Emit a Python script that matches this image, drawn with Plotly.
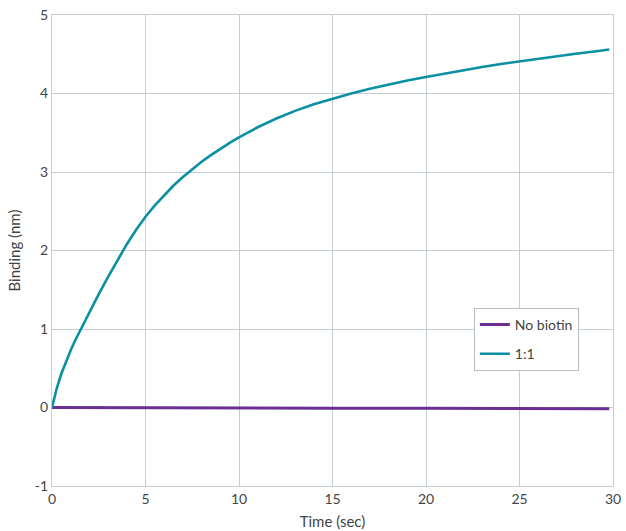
import plotly.graph_objects as go

time_sec = [0, 0.25, 0.5, 0.75, 1, 1.25, 1.5, 2, 2.5, 3, 3.5, 4, 4.5, 5, 5.5, 6, 6.5, 7, 7.5, 8, 8.5, 9, 9.5, 10,
            11, 12, 13, 14, 15, 16, 17, 18, 19, 20, 21, 22, 23, 24, 25, 26, 27, 28, 29, 29.8]
binding_1to1 = [0, 0.24, 0.43, 0.59, 0.73, 0.86, 0.98, 1.215, 1.445, 1.665, 1.875, 2.08, 2.265, 2.43,
                2.575, 2.707, 2.828, 2.937, 3.037, 3.13, 3.215, 3.295, 3.37, 3.44,
                3.57, 3.682, 3.779, 3.863, 3.936, 4.0, 4.06, 4.115, 4.165, 4.21, 4.255, 4.297, 4.337,
                4.375, 4.41, 4.444, 4.476, 4.507, 4.536, 4.56]
time_nb = [0, 5, 10, 15, 20, 25, 29.8]
binding_no_biotin = [0, -0.005, -0.008, -0.01, -0.01, -0.012, -0.015]

x_ticks = [0, 5, 10, 15, 20, 25, 30]
x_tick_labels = ["0", "5", "10", "15", "20", "25", "30"]
y_ticks = [-1, 0, 1, 2, 3, 4, 5]
y_tick_labels = ["-1", "0", "1", "2", "3", "4", "5"]

fig = go.Figure()
fig.add_trace(go.Scatter(x=time_nb, y=binding_no_biotin, mode="lines", name="No biotin",
                         legendgroup="a", line=dict(color="#6b2f94", width=3)))
fig.add_trace(go.Scatter(x=time_sec, y=binding_1to1, mode="lines", name="1:1",
                         legendgroup="b", line=dict(color="#0a8fa3", width=2.6)))

axis_common = dict(showgrid=True, gridcolor="#c5cdd4", gridwidth=1, zeroline=False,
                   showline=True, linecolor="#c5cdd4", linewidth=1, mirror=True,
                   ticks="", tickfont=dict(size=14, color="#444444"),
                   title_font=dict(size=15, color="#444444"), automargin=False)

fig.update_layout(
    width=626, height=531,
    margin=dict(l=52, r=13, t=15, b=45),
    paper_bgcolor="white", plot_bgcolor="white",
    font=dict(family="Lato, Open Sans, sans-serif", color="#444444"),
    xaxis=dict(range=[0, 30], tickvals=x_ticks, ticktext=x_tick_labels,
               title=dict(text="Time (sec)", standoff=10), **axis_common),
    yaxis=dict(range=[-1, 5], tickvals=y_ticks, ticktext=y_tick_labels,
               title=dict(text="Binding (nm)", standoff=10), **axis_common),
    legend=dict(x=0.752, y=0.378, xanchor="left", yanchor="top", bgcolor="white",
                bordercolor="#b5bec7", borderwidth=1, font=dict(size=14, color="#444444"),
                itemwidth=30, tracegroupgap=8, traceorder="grouped"),
    showlegend=True,
)

fig.write_html("out.html", config={"displayModeBar": False},
               post_script="document.body.style.margin='0';document.body.style.overflow='hidden';")
